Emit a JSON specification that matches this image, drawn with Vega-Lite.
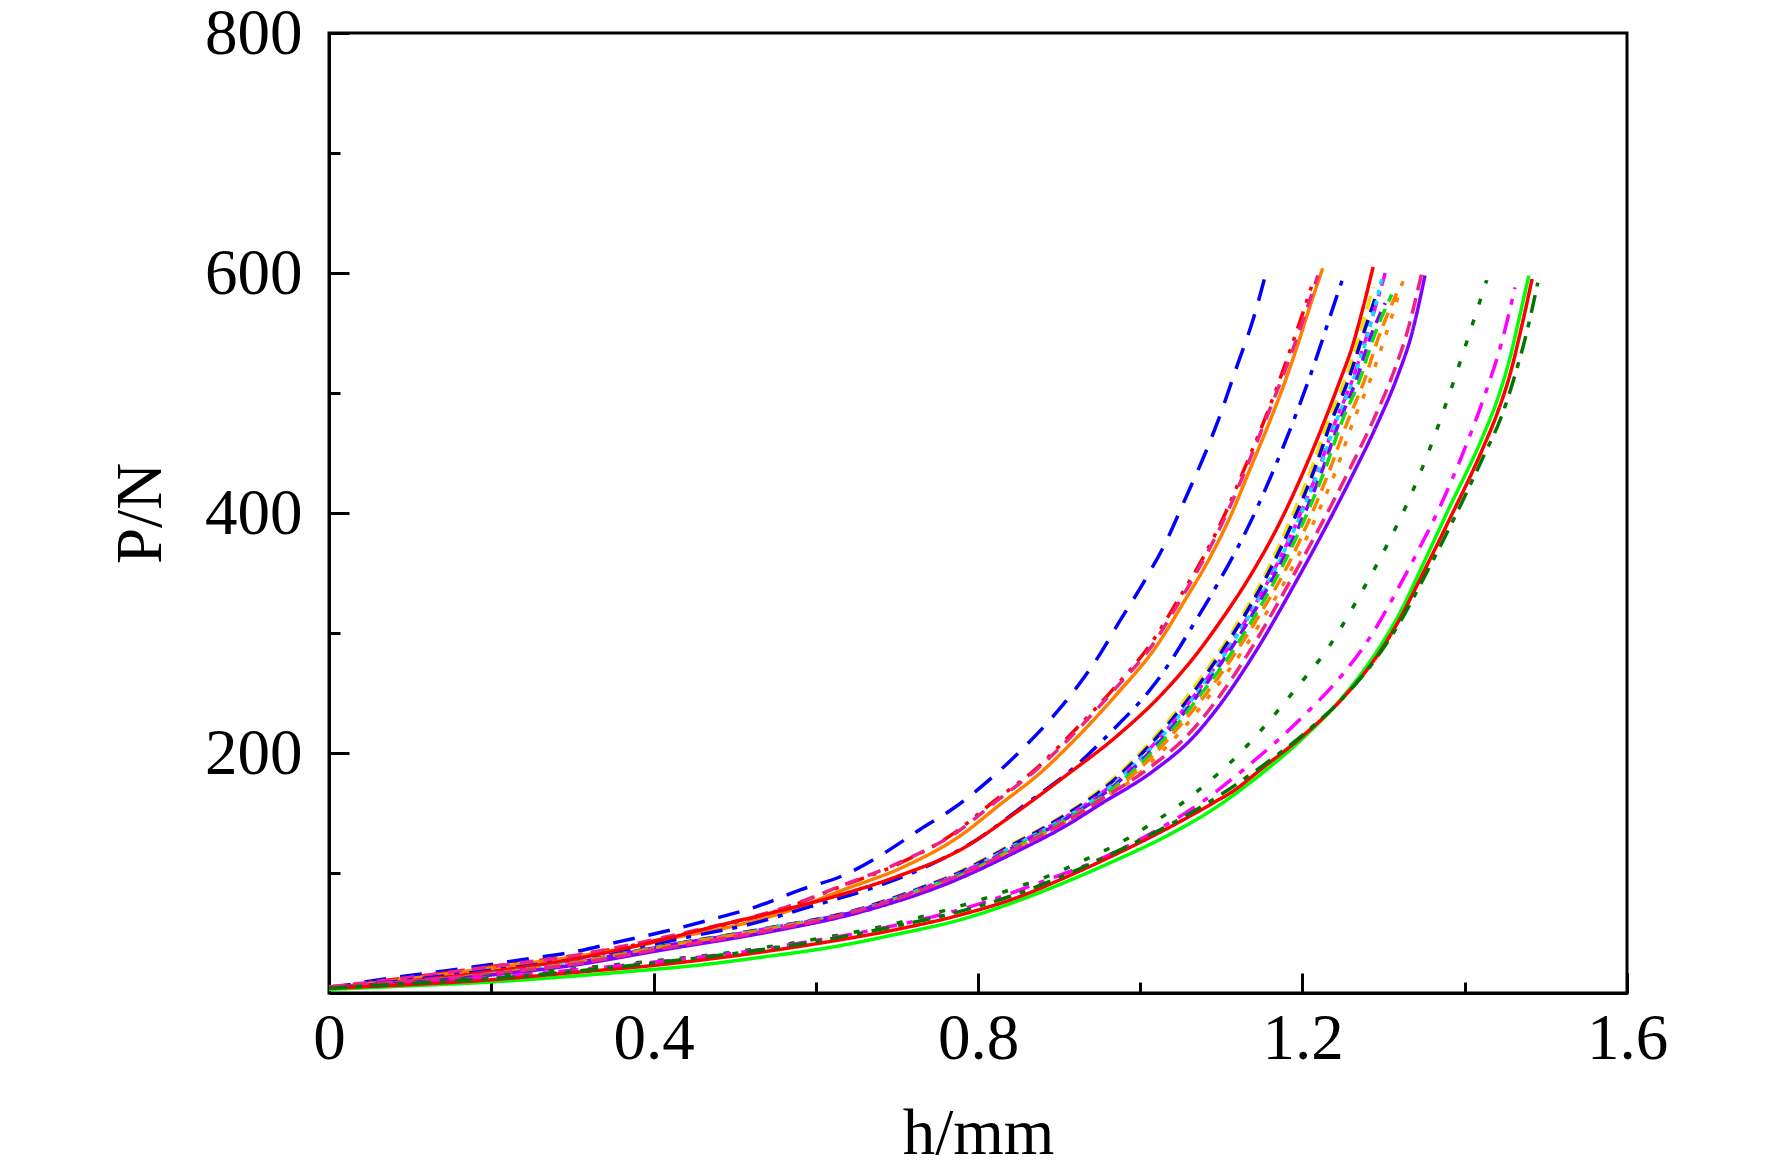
{
  "$schema": "https://vega.github.io/schema/vega-lite/v6.json",
  "width": 1298,
  "height": 960,
  "autosize": "none",
  "padding": {"left": 329, "top": 33, "right": 145, "bottom": 179},
  "background": "white",
  "config": {
    "view": {"stroke": "black", "strokeWidth": 3},
    "font": "Liberation Serif",
    "axis": {
      "grid": false,
      "domainColor": "black",
      "domainWidth": 3,
      "tickColor": "black",
      "tickWidth": 3,
      "labelFont": "Liberation Serif",
      "labelFontSize": 65,
      "labelColor": "black",
      "labelFlush": false,
      "labelOverlap": false,
      "titleFont": "Liberation Serif",
      "titleFontSize": 65,
      "titleFontWeight": "normal",
      "titleColor": "black"
    }
  },
  "layer": [
    {
      "data": {
        "values": [
          {"s":"bd","h":0,"p":4},{"s":"bd","h":0.071,"p":12},{"s":"bd","h":0.127,"p":17},{"s":"bd","h":0.182,"p":22},{"s":"bd","h":0.24,"p":28},{"s":"bd","h":0.3,"p":34},{"s":"bd","h":0.359,"p":43},{"s":"bd","h":0.412,"p":51},{"s":"bd","h":0.47,"p":61},{"s":"bd","h":0.527,"p":72},{"s":"bd","h":0.581,"p":86},{"s":"bd","h":0.634,"p":98},{"s":"bd","h":0.683,"p":116},{"s":"bd","h":0.728,"p":136},{"s":"bd","h":0.772,"p":155},{"s":"bd","h":0.823,"p":183},{"s":"bd","h":0.86,"p":207},{"s":"bd","h":0.897,"p":234},{"s":"bd","h":0.95,"p":282},{"s":"bd","h":0.973,"p":308},{"s":"bd","h":1.004,"p":342},{"s":"bd","h":1.031,"p":375},{"s":"bd","h":1.053,"p":408},{"s":"bd","h":1.082,"p":453},{"s":"bd","h":1.096,"p":477},{"s":"bd","h":1.119,"p":522},{"s":"bd","h":1.139,"p":561},{"s":"bd","h":1.155,"p":600},

          {"s":"rdd","h":0,"p":5},{"s":"rdd","h":0.1,"p":13},{"s":"rdd","h":0.2,"p":22},{"s":"rdd","h":0.3,"p":31},{"s":"rdd","h":0.37,"p":39},{"s":"rdd","h":0.43,"p":48},{"s":"rdd","h":0.49,"p":57},{"s":"rdd","h":0.555,"p":69},{"s":"rdd","h":0.628,"p":88},{"s":"rdd","h":0.7,"p":107},{"s":"rdd","h":0.77,"p":133},{"s":"rdd","h":0.82,"p":160},{"s":"rdd","h":0.87,"p":186},{"s":"rdd","h":0.915,"p":216},{"s":"rdd","h":0.965,"p":252},{"s":"rdd","h":1.015,"p":293},{"s":"rdd","h":1.047,"p":328},{"s":"rdd","h":1.08,"p":366},{"s":"rdd","h":1.105,"p":400},{"s":"rdd","h":1.129,"p":438},{"s":"rdd","h":1.154,"p":479},{"s":"rdd","h":1.187,"p":540},{"s":"rdd","h":1.203,"p":572},{"s":"rdd","h":1.214,"p":595},

          {"s":"os","h":0,"p":4},{"s":"os","h":0.1,"p":12},{"s":"os","h":0.2,"p":21},{"s":"os","h":0.3,"p":30},{"s":"os","h":0.371,"p":38},{"s":"os","h":0.433,"p":47},{"s":"os","h":0.494,"p":55},{"s":"os","h":0.56,"p":67},{"s":"os","h":0.634,"p":86},{"s":"os","h":0.708,"p":105},{"s":"os","h":0.778,"p":131},{"s":"os","h":0.827,"p":157},{"s":"os","h":0.876,"p":183},{"s":"os","h":0.922,"p":213},{"s":"os","h":0.971,"p":249},{"s":"os","h":1.021,"p":290},{"s":"os","h":1.053,"p":325},{"s":"os","h":1.086,"p":363},{"s":"os","h":1.111,"p":397},{"s":"os","h":1.135,"p":436},{"s":"os","h":1.16,"p":477},{"s":"os","h":1.176,"p":505},{"s":"os","h":1.193,"p":538},{"s":"os","h":1.209,"p":572},{"s":"os","h":1.225,"p":604},

          {"s":"pk2","h":0,"p":5},{"s":"pk2","h":0.1,"p":13},{"s":"pk2","h":0.2,"p":22},{"s":"pk2","h":0.3,"p":31},{"s":"pk2","h":0.37,"p":40},{"s":"pk2","h":0.43,"p":49},{"s":"pk2","h":0.49,"p":58},{"s":"pk2","h":0.556,"p":70},{"s":"pk2","h":0.63,"p":89},{"s":"pk2","h":0.704,"p":109},{"s":"pk2","h":0.774,"p":134},{"s":"pk2","h":0.823,"p":160},{"s":"pk2","h":0.872,"p":186},{"s":"pk2","h":0.918,"p":216},{"s":"pk2","h":0.967,"p":252},{"s":"pk2","h":1.017,"p":292},{"s":"pk2","h":1.049,"p":327},{"s":"pk2","h":1.082,"p":366},{"s":"pk2","h":1.107,"p":400},{"s":"pk2","h":1.131,"p":438},{"s":"pk2","h":1.156,"p":480},{"s":"pk2","h":1.19,"p":540},{"s":"pk2","h":1.219,"p":598},

          {"s":"bdd","h":0,"p":4},{"s":"bdd","h":0.1,"p":11},{"s":"bdd","h":0.2,"p":19},{"s":"bdd","h":0.3,"p":28},{"s":"bdd","h":0.383,"p":38},{"s":"bdd","h":0.445,"p":47},{"s":"bdd","h":0.523,"p":58},{"s":"bdd","h":0.593,"p":72},{"s":"bdd","h":0.663,"p":86},{"s":"bdd","h":0.732,"p":104},{"s":"bdd","h":0.799,"p":128},{"s":"bdd","h":0.86,"p":158},{"s":"bdd","h":0.917,"p":187},{"s":"bdd","h":0.966,"p":219},{"s":"bdd","h":1.016,"p":256},{"s":"bdd","h":1.039,"p":278},{"s":"bdd","h":1.061,"p":302},{"s":"bdd","h":1.098,"p":344},{"s":"bdd","h":1.132,"p":387},{"s":"bdd","h":1.162,"p":432},{"s":"bdd","h":1.193,"p":484},{"s":"bdd","h":1.215,"p":525},{"s":"bdd","h":1.238,"p":572},{"s":"bdd","h":1.25,"p":596},

          {"s":"rs3","h":0,"p":4},{"s":"rs3","h":0.1,"p":10},{"s":"rs3","h":0.2,"p":18},{"s":"rs3","h":0.3,"p":28},{"s":"rs3","h":0.396,"p":42},{"s":"rs3","h":0.473,"p":55},{"s":"rs3","h":0.547,"p":67},{"s":"rs3","h":0.621,"p":80},{"s":"rs3","h":0.7,"p":97},{"s":"rs3","h":0.78,"p":120},{"s":"rs3","h":0.848,"p":151},{"s":"rs3","h":0.91,"p":182},{"s":"rs3","h":0.971,"p":214},{"s":"rs3","h":1.028,"p":250},{"s":"rs3","h":1.07,"p":283},{"s":"rs3","h":1.098,"p":309},{"s":"rs3","h":1.135,"p":347},{"s":"rs3","h":1.169,"p":388},{"s":"rs3","h":1.197,"p":428},{"s":"rs3","h":1.222,"p":468},{"s":"rs3","h":1.246,"p":510},{"s":"rs3","h":1.262,"p":540},{"s":"rs3","h":1.275,"p":572},{"s":"rs3","h":1.287,"p":605},

          {"s":"yd","h":0,"p":4},{"s":"yd","h":0.099,"p":9},{"s":"yd","h":0.198,"p":16},{"s":"yd","h":0.298,"p":25},{"s":"yd","h":0.409,"p":39},{"s":"yd","h":0.531,"p":53},{"s":"yd","h":0.653,"p":70},{"s":"yd","h":0.714,"p":84},{"s":"yd","h":0.774,"p":100},{"s":"yd","h":0.833,"p":121},{"s":"yd","h":0.903,"p":147},{"s":"yd","h":0.946,"p":167},{"s":"yd","h":0.988,"p":192},{"s":"yd","h":1.029,"p":222},{"s":"yd","h":1.061,"p":250},{"s":"yd","h":1.096,"p":283},{"s":"yd","h":1.126,"p":315},{"s":"yd","h":1.155,"p":350},{"s":"yd","h":1.185,"p":394},{"s":"yd","h":1.21,"p":435},{"s":"yd","h":1.232,"p":477},{"s":"yd","h":1.252,"p":510},{"s":"yd","h":1.269,"p":545},{"s":"yd","h":1.287,"p":588},

          {"s":"nd","h":0,"p":4},{"s":"nd","h":0.1,"p":9},{"s":"nd","h":0.199,"p":16},{"s":"nd","h":0.299,"p":25},{"s":"nd","h":0.41,"p":39},{"s":"nd","h":0.532,"p":53},{"s":"nd","h":0.655,"p":70},{"s":"nd","h":0.716,"p":84},{"s":"nd","h":0.776,"p":100},{"s":"nd","h":0.836,"p":121},{"s":"nd","h":0.905,"p":147},{"s":"nd","h":0.949,"p":167},{"s":"nd","h":0.991,"p":192},{"s":"nd","h":1.032,"p":222},{"s":"nd","h":1.065,"p":250},{"s":"nd","h":1.099,"p":283},{"s":"nd","h":1.129,"p":315},{"s":"nd","h":1.158,"p":350},{"s":"nd","h":1.189,"p":394},{"s":"nd","h":1.214,"p":435},{"s":"nd","h":1.236,"p":477},{"s":"nd","h":1.256,"p":510},{"s":"nd","h":1.273,"p":545},{"s":"nd","h":1.29,"p":580},

          {"s":"mdd4","h":0,"p":4},{"s":"mdd4","h":0.1,"p":9},{"s":"mdd4","h":0.2,"p":16},{"s":"mdd4","h":0.3,"p":25},{"s":"mdd4","h":0.412,"p":39},{"s":"mdd4","h":0.534,"p":53},{"s":"mdd4","h":0.657,"p":70},{"s":"mdd4","h":0.719,"p":84},{"s":"mdd4","h":0.779,"p":100},{"s":"mdd4","h":0.839,"p":121},{"s":"mdd4","h":0.909,"p":147},{"s":"mdd4","h":0.953,"p":167},{"s":"mdd4","h":0.995,"p":192},{"s":"mdd4","h":1.036,"p":222},{"s":"mdd4","h":1.069,"p":250},{"s":"mdd4","h":1.104,"p":283},{"s":"mdd4","h":1.134,"p":315},{"s":"mdd4","h":1.163,"p":350},{"s":"mdd4","h":1.194,"p":394},{"s":"mdd4","h":1.219,"p":435},{"s":"mdd4","h":1.241,"p":477},{"s":"mdd4","h":1.261,"p":510},{"s":"mdd4","h":1.278,"p":545},{"s":"mdd4","h":1.302,"p":600},

          {"s":"cd","h":0,"p":4},{"s":"cd","h":0.1,"p":9},{"s":"cd","h":0.2,"p":16},{"s":"cd","h":0.3,"p":25},{"s":"cd","h":0.412,"p":39},{"s":"cd","h":0.535,"p":53},{"s":"cd","h":0.658,"p":70},{"s":"cd","h":0.72,"p":84},{"s":"cd","h":0.78,"p":100},{"s":"cd","h":0.84,"p":121},{"s":"cd","h":0.91,"p":147},{"s":"cd","h":0.954,"p":167},{"s":"cd","h":0.996,"p":192},{"s":"cd","h":1.037,"p":222},{"s":"cd","h":1.07,"p":250},{"s":"cd","h":1.105,"p":283},{"s":"cd","h":1.135,"p":315},{"s":"cd","h":1.164,"p":350},{"s":"cd","h":1.195,"p":394},{"s":"cd","h":1.22,"p":435},{"s":"cd","h":1.242,"p":477},{"s":"cd","h":1.262,"p":510},{"s":"cd","h":1.279,"p":545},{"s":"cd","h":1.298,"p":596},

          {"s":"pd","h":0,"p":4},{"s":"pd","h":0.1,"p":9},{"s":"pd","h":0.2,"p":16},{"s":"pd","h":0.301,"p":25},{"s":"pd","h":0.413,"p":39},{"s":"pd","h":0.537,"p":53},{"s":"pd","h":0.66,"p":70},{"s":"pd","h":0.722,"p":84},{"s":"pd","h":0.782,"p":100},{"s":"pd","h":0.843,"p":121},{"s":"pd","h":0.913,"p":147},{"s":"pd","h":0.957,"p":167},{"s":"pd","h":0.999,"p":192},{"s":"pd","h":1.04,"p":222},{"s":"pd","h":1.073,"p":250},{"s":"pd","h":1.108,"p":283},{"s":"pd","h":1.138,"p":315},{"s":"pd","h":1.167,"p":350},{"s":"pd","h":1.199,"p":394},{"s":"pd","h":1.224,"p":435},{"s":"pd","h":1.246,"p":477},{"s":"pd","h":1.266,"p":510},{"s":"pd","h":1.283,"p":545},{"s":"pd","h":1.302,"p":575},

          {"s":"gd","h":0,"p":4},{"s":"gd","h":0.101,"p":9},{"s":"gd","h":0.201,"p":16},{"s":"gd","h":0.302,"p":25},{"s":"gd","h":0.414,"p":39},{"s":"gd","h":0.538,"p":53},{"s":"gd","h":0.662,"p":70},{"s":"gd","h":0.724,"p":84},{"s":"gd","h":0.785,"p":100},{"s":"gd","h":0.845,"p":121},{"s":"gd","h":0.915,"p":147},{"s":"gd","h":0.96,"p":167},{"s":"gd","h":1.002,"p":192},{"s":"gd","h":1.043,"p":222},{"s":"gd","h":1.076,"p":250},{"s":"gd","h":1.112,"p":283},{"s":"gd","h":1.142,"p":315},{"s":"gd","h":1.171,"p":350},{"s":"gd","h":1.202,"p":394},{"s":"gd","h":1.227,"p":435},{"s":"gd","h":1.249,"p":477},{"s":"gd","h":1.27,"p":510},{"s":"gd","h":1.287,"p":545},{"s":"gd","h":1.31,"p":582},

          {"s":"od","h":0,"p":4},{"s":"od","h":0.101,"p":9},{"s":"od","h":0.202,"p":16},{"s":"od","h":0.303,"p":25},{"s":"od","h":0.417,"p":39},{"s":"od","h":0.541,"p":53},{"s":"od","h":0.665,"p":70},{"s":"od","h":0.728,"p":84},{"s":"od","h":0.789,"p":100},{"s":"od","h":0.849,"p":121},{"s":"od","h":0.92,"p":147},{"s":"od","h":0.965,"p":167},{"s":"od","h":1.007,"p":192},{"s":"od","h":1.048,"p":222},{"s":"od","h":1.082,"p":250},{"s":"od","h":1.117,"p":283},{"s":"od","h":1.147,"p":315},{"s":"od","h":1.177,"p":350},{"s":"od","h":1.208,"p":394},{"s":"od","h":1.233,"p":435},{"s":"od","h":1.256,"p":477},{"s":"od","h":1.276,"p":510},{"s":"od","h":1.293,"p":545},{"s":"od","h":1.316,"p":583},

          {"s":"oo","h":0,"p":4},{"s":"oo","h":0.102,"p":9},{"s":"oo","h":0.203,"p":16},{"s":"oo","h":0.305,"p":25},{"s":"oo","h":0.419,"p":39},{"s":"oo","h":0.544,"p":53},{"s":"oo","h":0.669,"p":70},{"s":"oo","h":0.732,"p":84},{"s":"oo","h":0.793,"p":100},{"s":"oo","h":0.854,"p":121},{"s":"oo","h":0.925,"p":147},{"s":"oo","h":0.97,"p":167},{"s":"oo","h":1.013,"p":192},{"s":"oo","h":1.055,"p":222},{"s":"oo","h":1.088,"p":250},{"s":"oo","h":1.124,"p":283},{"s":"oo","h":1.154,"p":315},{"s":"oo","h":1.184,"p":350},{"s":"oo","h":1.215,"p":394},{"s":"oo","h":1.241,"p":435},{"s":"oo","h":1.263,"p":477},{"s":"oo","h":1.283,"p":510},{"s":"oo","h":1.301,"p":545},{"s":"oo","h":1.326,"p":598},

          {"s":"ps","h":0,"p":4},{"s":"ps","h":0.1,"p":9},{"s":"ps","h":0.2,"p":15},{"s":"ps","h":0.3,"p":23},{"s":"ps","h":0.412,"p":36},{"s":"ps","h":0.535,"p":50},{"s":"ps","h":0.658,"p":68},{"s":"ps","h":0.765,"p":92},{"s":"ps","h":0.848,"p":118},{"s":"ps","h":0.91,"p":140},{"s":"ps","h":0.95,"p":157},{"s":"ps","h":1.016,"p":185},{"s":"ps","h":1.065,"p":213},{"s":"ps","h":1.098,"p":240},{"s":"ps","h":1.139,"p":281},{"s":"ps","h":1.193,"p":344},{"s":"ps","h":1.23,"p":390},{"s":"ps","h":1.262,"p":432},{"s":"ps","h":1.292,"p":474},{"s":"ps","h":1.316,"p":512},{"s":"ps","h":1.335,"p":550},{"s":"ps","h":1.351,"p":598},

          {"s":"pk5","h":0,"p":5},{"s":"pk5","h":0.1,"p":10},{"s":"pk5","h":0.2,"p":16},{"s":"pk5","h":0.3,"p":24},{"s":"pk5","h":0.41,"p":37},{"s":"pk5","h":0.533,"p":51},{"s":"pk5","h":0.655,"p":69},{"s":"pk5","h":0.762,"p":94},{"s":"pk5","h":0.845,"p":120},{"s":"pk5","h":0.906,"p":142},{"s":"pk5","h":0.946,"p":159},{"s":"pk5","h":1.012,"p":188},{"s":"pk5","h":1.06,"p":216},{"s":"pk5","h":1.093,"p":243},{"s":"pk5","h":1.134,"p":284},{"s":"pk5","h":1.188,"p":347},{"s":"pk5","h":1.225,"p":393},{"s":"pk5","h":1.257,"p":435},{"s":"pk5","h":1.287,"p":477},{"s":"pk5","h":1.311,"p":515},{"s":"pk5","h":1.33,"p":553},{"s":"pk5","h":1.347,"p":600},

          {"s":"gdot","h":0,"p":4},{"s":"gdot","h":0.1,"p":8},{"s":"gdot","h":0.2,"p":14},{"s":"gdot","h":0.3,"p":20},{"s":"gdot","h":0.418,"p":28},{"s":"gdot","h":0.486,"p":33},{"s":"gdot","h":0.556,"p":40},{"s":"gdot","h":0.626,"p":48},{"s":"gdot","h":0.692,"p":57},{"s":"gdot","h":0.76,"p":69},{"s":"gdot","h":0.8,"p":77},{"s":"gdot","h":0.856,"p":90},{"s":"gdot","h":0.889,"p":98},{"s":"gdot","h":0.922,"p":108},{"s":"gdot","h":0.954,"p":118},{"s":"gdot","h":0.985,"p":129},{"s":"gdot","h":1.016,"p":142},{"s":"gdot","h":1.045,"p":155},{"s":"gdot","h":1.072,"p":169},{"s":"gdot","h":1.098,"p":184},{"s":"gdot","h":1.123,"p":200},{"s":"gdot","h":1.145,"p":216},{"s":"gdot","h":1.19,"p":252},{"s":"gdot","h":1.234,"p":290},{"s":"gdot","h":1.271,"p":332},{"s":"gdot","h":1.304,"p":373},{"s":"gdot","h":1.335,"p":417},{"s":"gdot","h":1.361,"p":461},{"s":"gdot","h":1.384,"p":505},{"s":"gdot","h":1.406,"p":550},{"s":"gdot","h":1.427,"p":594},

          {"s":"mdd6","h":0,"p":4},{"s":"mdd6","h":0.1,"p":8},{"s":"mdd6","h":0.2,"p":13},{"s":"mdd6","h":0.3,"p":19},{"s":"mdd6","h":0.445,"p":29},{"s":"mdd6","h":0.519,"p":35},{"s":"mdd6","h":0.593,"p":43},{"s":"mdd6","h":0.667,"p":52},{"s":"mdd6","h":0.741,"p":63},{"s":"mdd6","h":0.81,"p":76},{"s":"mdd6","h":0.876,"p":92},{"s":"mdd6","h":0.938,"p":108},{"s":"mdd6","h":1.008,"p":131},{"s":"mdd6","h":1.082,"p":162},{"s":"mdd6","h":1.127,"p":186},{"s":"mdd6","h":1.2,"p":230},{"s":"mdd6","h":1.25,"p":266},{"s":"mdd6","h":1.275,"p":288},{"s":"mdd6","h":1.292,"p":306},{"s":"mdd6","h":1.317,"p":336},{"s":"mdd6","h":1.339,"p":364},{"s":"mdd6","h":1.37,"p":406},{"s":"mdd6","h":1.399,"p":452},{"s":"mdd6","h":1.423,"p":495},{"s":"mdd6","h":1.447,"p":546},{"s":"mdd6","h":1.462,"p":588},

          {"s":"gs","h":0,"p":3},{"s":"gs","h":0.1,"p":6},{"s":"gs","h":0.195,"p":9},{"s":"gs","h":0.3,"p":14},{"s":"gs","h":0.371,"p":18},{"s":"gs","h":0.453,"p":23},{"s":"gs","h":0.535,"p":30},{"s":"gs","h":0.618,"p":38},{"s":"gs","h":0.7,"p":49},{"s":"gs","h":0.778,"p":61},{"s":"gs","h":0.85,"p":77},{"s":"gs","h":0.91,"p":93},{"s":"gs","h":0.971,"p":111},{"s":"gs","h":1.033,"p":131},{"s":"gs","h":1.094,"p":155},{"s":"gs","h":1.148,"p":182},{"s":"gs","h":1.2,"p":212},{"s":"gs","h":1.25,"p":247},{"s":"gs","h":1.292,"p":285},{"s":"gs","h":1.321,"p":318},{"s":"gs","h":1.345,"p":352},{"s":"gs","h":1.38,"p":403},{"s":"gs","h":1.423,"p":465},{"s":"gs","h":1.44,"p":494},{"s":"gs","h":1.456,"p":530},{"s":"gs","h":1.468,"p":565},{"s":"gs","h":1.479,"p":598},

          {"s":"rs6","h":0,"p":4},{"s":"rs6","h":0.1,"p":7},{"s":"rs6","h":0.2,"p":11},{"s":"rs6","h":0.3,"p":17},{"s":"rs6","h":0.4,"p":23},{"s":"rs6","h":0.5,"p":31},{"s":"rs6","h":0.6,"p":41},{"s":"rs6","h":0.7,"p":53},{"s":"rs6","h":0.778,"p":65},{"s":"rs6","h":0.85,"p":80},{"s":"rs6","h":0.91,"p":97},{"s":"rs6","h":0.971,"p":116},{"s":"rs6","h":1.033,"p":137},{"s":"rs6","h":1.094,"p":160},{"s":"rs6","h":1.114,"p":168},{"s":"rs6","h":1.148,"p":186},{"s":"rs6","h":1.2,"p":214},{"s":"rs6","h":1.25,"p":246},{"s":"rs6","h":1.292,"p":281},{"s":"rs6","h":1.321,"p":313},{"s":"rs6","h":1.345,"p":345},{"s":"rs6","h":1.38,"p":393},{"s":"rs6","h":1.423,"p":455},{"s":"rs6","h":1.44,"p":483},{"s":"rs6","h":1.456,"p":516},{"s":"rs6","h":1.47,"p":555},{"s":"rs6","h":1.483,"p":595},

          {"s":"gdd","h":0,"p":4},{"s":"gdd","h":0.1,"p":8},{"s":"gdd","h":0.2,"p":12},{"s":"gdd","h":0.3,"p":18},{"s":"gdd","h":0.4,"p":25},{"s":"gdd","h":0.5,"p":33},{"s":"gdd","h":0.6,"p":43},{"s":"gdd","h":0.7,"p":56},{"s":"gdd","h":0.778,"p":68},{"s":"gdd","h":0.85,"p":83},{"s":"gdd","h":0.91,"p":99},{"s":"gdd","h":0.971,"p":118},{"s":"gdd","h":1.033,"p":139},{"s":"gdd","h":1.094,"p":163},{"s":"gdd","h":1.148,"p":188},{"s":"gdd","h":1.2,"p":215},{"s":"gdd","h":1.25,"p":246},{"s":"gdd","h":1.292,"p":280},{"s":"gdd","h":1.321,"p":310},{"s":"gdd","h":1.345,"p":340},{"s":"gdd","h":1.38,"p":386},{"s":"gdd","h":1.423,"p":447},{"s":"gdd","h":1.445,"p":480},{"s":"gdd","h":1.462,"p":515},{"s":"gdd","h":1.478,"p":555},{"s":"gdd","h":1.49,"p":592}
        ]
      },
      "mark": {"type": "line", "strokeWidth": 3.5, "clip": true, "interpolate": "monotone"},
      "encoding": {
        "x": {
          "field": "h",
          "type": "quantitative",
          "scale": {"domain": [0, 1.6], "nice": false, "zero": true},
          "axis": {
            "values": [0, 0.4, 0.8, 1.2, 1.6],
            "labelExpr": "format(datum.value, '~g')",
            "tickSize": -20,
            "labelPadding": 34,
            "title": "h/mm",
            "titlePadding": 31
          }
        },
        "y": {
          "field": "p",
          "type": "quantitative",
          "scale": {"domain": [0, 800], "nice": false},
          "axis": {
            "values": [0, 200, 400, 600, 800],
            "labelExpr": "datum.value == 0 ? '' : datum.label",
            "tickSize": -20,
            "labelPadding": 47,
            "title": "P/N",
            "titlePadding": 30
          }
        },
        "color": {
          "field": "s",
          "type": "nominal",
          "legend": null,
          "scale": {
            "domain": ["bd","rdd","os","pk2","bdd","rs3","yd","nd","mdd4","cd","pd","gd","od","oo","ps","pk5","gdot","mdd6","gs","rs6","gdd"],
            "range": ["#0000ff","#ff0000","#ff8000","#ee2288","#0000ff","#ff0000","#f5e000","#0000d0","#ff00ff","#00e5ff","#8000ff","#11dd11","#ff8000","#ff8000","#8000ff","#ee2288","#007800","#ff00ff","#00ff00","#ff0000","#007800"]
          }
        },
        "strokeDash": {
          "field": "s",
          "type": "nominal",
          "legend": null,
          "scale": {
            "domain": ["bd","rdd","os","pk2","bdd","rs3","yd","nd","mdd4","cd","pd","gd","od","oo","ps","pk5","gdot","mdd6","gs","rs6","gdd"],
            "range": [[22,14],[18,9,4,9,4,9],[1,0],[14,10],[22,10,5,10],[1,0],[14,8],[14,8],[14,6,5,6],[5,6],[12,8],[14,8],[14,8],[5,12],[1,0],[16,8],[6,16],[20,10,6,10],[1,0],[1,0],[18,9,6,9]]
          }
        }
      }
    },
    {
      "data": {"values": [{"h": 0, "p": 0}]},
      "mark": {"type": "point", "opacity": 0},
      "encoding": {
        "x": {
          "field": "h",
          "type": "quantitative",
          "axis": {"orient": "bottom", "values": [0.2, 0.6, 1.0, 1.4], "labels": false, "domain": false, "tickSize": -11, "title": null}
        },
        "y": {
          "field": "p",
          "type": "quantitative",
          "axis": {"orient": "left", "values": [100, 300, 500, 700], "labels": false, "domain": false, "tickSize": -11, "title": null}
        }
      }
    }
  ],
  "resolve": {"axis": {"x": "independent", "y": "independent"}}
}
